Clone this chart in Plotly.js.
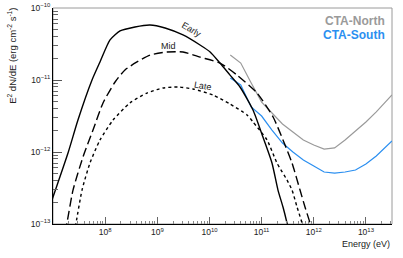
<!DOCTYPE html>
<html>
<head>
<meta charset="utf-8">
<script src="https://cdn.plot.ly/plotly-3.0.1.min.js"></script>
<style>html,body{margin:0;padding:0;background:#fff;}#chart{width:403px;height:258px;}</style>
</head>
<body>
<div id="chart"></div>
<script>
// Energy (eV) and E^2 dN/dE (erg cm^-2 s^-1)
const earlyE = [8.0e6, 1.0e7, 1.94e7, 3.01e7, 5.6e7, 7.96e7, 1.24e8, 1.93e8, 3.73e8, 7.24e8, 1.41e9, 3.11e9, 6.59e9, 1.03e10, 1.59e10, 2.48e10, 3.85e10, 6.84e10, 1.06e11, 1.58e11, 2.06e11, 2.57e11, 3.07e11, 3.35e11];
const earlyF = [1.47e-13, 2.37e-13, 9.68e-13, 2.78e-12, 1.0e-11, 1.78e-11, 3.6e-11, 4.8e-11, 5.45e-11, 5.81e-11, 5.27e-11, 4.22e-11, 3.06e-11, 2.45e-11, 1.72e-11, 1.17e-11, 8.0e-12, 3.83e-12, 1.61e-12, 7.03e-13, 2.96e-13, 1.72e-13, 1.03e-13, 7.7e-14];

const midE = [1.70e7, 1.85e7, 2.42e7, 3.76e7, 5.85e7, 9.1e7, 1.55e8, 2.40e8, 4.08e8, 7.24e8, 1.53e9, 3.11e9, 6.59e9, 1.59e10, 3.37e10, 8.16e10, 1.66e11, 2.57e11, 3.83e11, 5.45e11, 6.79e11, 8.47e11, 9.25e11];
const midF = [7.7e-14, 1.03e-13, 2.96e-13, 8.53e-13, 2.02e-12, 4.8e-12, 9.38e-12, 1.38e-11, 1.78e-11, 2.22e-11, 2.45e-11, 2.45e-11, 2.08e-11, 1.72e-11, 1.17e-11, 6.59e-12, 3.06e-12, 1.47e-12, 7.03e-13, 2.96e-13, 1.72e-13, 1.03e-13, 7.7e-14];

const lateE = [2.53e7, 2.76e7, 3.6e7, 5.12e7, 7.96e7, 1.42e8, 2.99e8, 6.34e8, 1.28e9, 2.49e9, 4.84e9, 1.17e10, 2.48e10, 5.25e10, 6.84e10, 1.27e11, 1.97e11, 3.07e11, 3.83e11, 4.78e11, 5.96e11, 6.5e11];
const lateF = [7.7e-14, 1.03e-13, 2.96e-13, 7.03e-13, 1.47e-12, 2.78e-12, 4.8e-12, 6.59e-12, 7.74e-12, 8.0e-12, 7.5e-12, 6.19e-12, 4.64e-12, 3.27e-12, 2.61e-12, 1.47e-12, 7.03e-13, 4.08e-13, 2.96e-13, 1.72e-13, 1.03e-13, 7.7e-14];

const ctaE = [2.51e10, 3.98e10, 6.31e10, 1e11, 1.58e11, 2.51e11, 3.98e11, 6.31e11, 1e12, 1.58e12, 2.51e12, 3.98e12, 6.31e12, 1e13, 1.58e13, 2.51e13, 3.16e13];
const northF = [2.22e-11, 1.72e-11, 9.08e-12, 4.94e-12, 3.48e-12, 2.45e-12, 1.90e-12, 1.47e-12, 1.25e-12, 1.10e-12, 1.14e-12, 1.47e-12, 1.96e-12, 2.61e-12, 3.6e-12, 5.1e-12, 6.19e-12];
const southF = [1.07e-11, 8.53e-12, 4.22e-12, 3.16e-12, 2.02e-12, 1.33e-12, 1.0e-12, 7.74e-13, 6.4e-13, 5.27e-13, 5.1e-13, 5.27e-13, 5.62e-13, 6.81e-13, 8.8e-13, 1.21e-12, 1.42e-12];

const curveLabels = ["Early", "Mid", "Late"];
const ctaLabels = ["CTA-North", "CTA-South"];

const xTickVals = [1e8, 1e9, 1e10, 1e11, 1e12, 1e13];
const xTickText = ["10<sup>8</sup>", "10<sup>9</sup>", "10<sup>10</sup>", "10<sup>11</sup>", "10<sup>12</sup>", "10<sup>13</sup>"];
const yTickVals = [1e-13, 1e-12, 1e-11, 1e-10];
const yTickText = ["10<sup>−13</sup>", "10<sup>−12</sup>", "10<sup>−11</sup>", "10<sup>−10</sup>"];

const FONT = "Liberation Sans, Arial, Helvetica, sans-serif";
const traces = [
  {x: ctaE, y: northF, mode: "lines", line: {color: "#9a9a9a", width: 1.2}},
  {x: ctaE, y: southF, mode: "lines", line: {color: "#2b8ff0", width: 1.2}},
  {x: earlyE, y: earlyF, mode: "lines", line: {color: "#000", width: 1.4, shape: "spline", smoothing: 0.6}},
  {x: midE, y: midF, mode: "lines", line: {color: "#000", width: 1.4, dash: "9px,4px", shape: "spline", smoothing: 0.6}},
  {x: lateE, y: lateF, mode: "lines", line: {color: "#000", width: 1.4, dash: "3px,3px", shape: "spline", smoothing: 0.6}}
];

const layout = {
  width: 403, height: 258,
  margin: {l: 53, r: 11, t: 8, b: 34},
  paper_bgcolor: "#fff", plot_bgcolor: "#fff",
  showlegend: false,
  font: {family: FONT, size: 8, color: "#222"},
  xaxis: {
    type: "log", range: [7.0, 13.5], tickmode: "array", tickvals: xTickVals, ticktext: xTickText,
    showgrid: false, zeroline: false, showline: true, linecolor: "#000", linewidth: 1,
    ticks: "inside", ticklen: 7, tickcolor: "#666", tickwidth: 1,
    minor: {ticks: "inside", ticklen: 3, tickcolor: "#888", dtick: "D1", showgrid: false},
    tickfont: {size: 8.5, color: "#222"}
  },
  yaxis: {
    type: "log", range: [-13, -10], tickmode: "array", tickvals: yTickVals, ticktext: yTickText,
    showgrid: false, zeroline: false, showline: true, linecolor: "#000", linewidth: 1,
    ticks: "inside", ticklen: 9, tickcolor: "#555", tickwidth: 1,
    minor: {ticks: "inside", ticklen: 5, tickcolor: "#666", dtick: "D1", showgrid: false},
    tickfont: {size: 8.5, color: "#222"}
  },
  shapes: [
    {type: "rect", xref: "paper", yref: "paper", x0: 0, x1: 1, y0: 0, y1: 1, line: {color: "#9a9a9a", width: 1}, layer: "below"}
  ],
  annotations: [
    {xref: "paper", yref: "paper", x: -0.121, y: 1.01, xanchor: "center", yanchor: "top", textangle: -90, showarrow: false,
     text: "E<sup>2</sup> dN/dE (erg cm<sup>-2</sup> s<sup>-1</sup>)", font: {size: 9.5, color: "#222"}},
    {xref: "paper", yref: "paper", x: 1.0, y: -0.06, xanchor: "right", yanchor: "top", showarrow: false,
     text: "Energy (eV)", font: {size: 9, color: "#222"}},
    {xref: "paper", yref: "paper", x: 0.410, y: 0.898, xanchor: "center", yanchor: "middle", textangle: 30, showarrow: false,
     text: curveLabels[0], font: {size: 9, color: "#222"}},
    {xref: "paper", yref: "paper", x: 0.342, y: 0.824, xanchor: "center", yanchor: "middle", showarrow: false,
     text: curveLabels[1], font: {size: 9, color: "#222"}},
    {xref: "paper", yref: "paper", x: 0.442, y: 0.639, xanchor: "center", yanchor: "middle", textangle: 9, showarrow: false,
     text: curveLabels[2], font: {size: 9, color: "#222"}},
    {xref: "paper", yref: "paper", x: 0.985, y: 0.942, xanchor: "right", yanchor: "middle", showarrow: false,
     text: "<b>" + ctaLabels[0] + "</b>", font: {size: 12, color: "#9a9a9a"}},
    {xref: "paper", yref: "paper", x: 0.985, y: 0.873, xanchor: "right", yanchor: "middle", showarrow: false,
     text: "<b>" + ctaLabels[1] + "</b>", font: {size: 12, color: "#2b8ff0"}}
  ]
};

Plotly.newPlot("chart", traces, layout, {staticPlot: true, displayModeBar: false});
</script>
</body>
</html>
